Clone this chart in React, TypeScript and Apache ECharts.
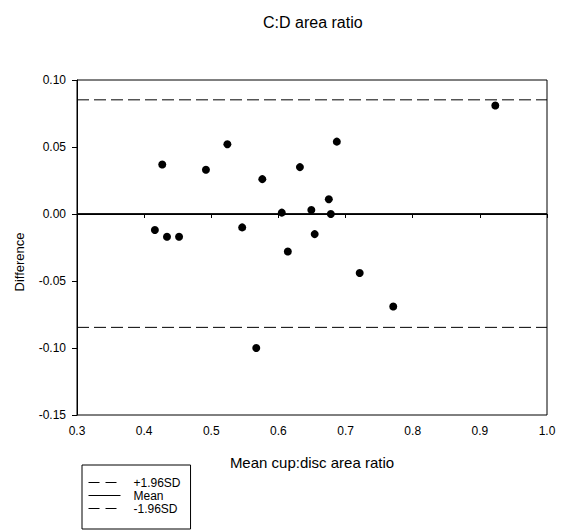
import React, { useEffect, useRef } from "react";
import * as echarts from "echarts";

const meanX: number[] = [0.416, 0.427, 0.434, 0.452, 0.492, 0.524, 0.546, 0.567, 0.576, 0.605, 0.614, 0.632, 0.649, 0.654, 0.675, 0.678, 0.687, 0.721, 0.771, 0.923];
const diffY: number[] = [-0.012, 0.037, -0.017, -0.017, 0.033, 0.052, -0.010, -0.100, 0.026, 0.001, -0.028, 0.035, 0.003, -0.015, 0.011, 0.000, 0.054, -0.044, -0.069, 0.081];
const lineNames: string[] = ["+1.96SD", "Mean", "-1.96SD"];
const lineLevels: number[] = [0.0852, 0.0003, -0.0846];
const xRange: number[] = [0.3, 1.0];

const FONT = "'Liberation Sans', Arial, Helvetica, sans-serif";

export default function App() {
  const ref = useRef<HTMLDivElement>(null);
  useEffect(() => {
    if (!ref.current) return;
    const chart = echarts.init(ref.current, null, { renderer: "svg" });
    const points = meanX.map((x, i) => [x, diffY[i]]);
    const dashOf = (name: string) => (name === "Mean" ? "solid" : [12, 5]);
    const lineSeries = lineNames.map((name, i) => ({
      name,
      type: "line",
      data: xRange.map((x) => [x, lineLevels[i]]),
      symbol: "none",
      showSymbol: false,
      silent: true,
      lineStyle: { color: "#000", width: 1, type: dashOf(name) },
      itemStyle: { color: "#000" },
      z: 2,
    }));
    chart.setOption({
      animation: false,
      backgroundColor: "#fff",
      textStyle: { fontFamily: FONT, color: "#000" },
      title: {
        text: "C:D area ratio",
        left: 258,
        top: 9,
        textStyle: { fontFamily: FONT, fontSize: 16, fontWeight: "normal", color: "#000" },
      },
      grid: {
        left: 77,
        right: 14,
        top: 80,
        bottom: 116,
        show: true,
        borderColor: "#000",
        borderWidth: 1,
        backgroundColor: "transparent",
      },
      legend: {
        data: lineNames.map((name) => ({
          name,
          itemStyle: { opacity: 0, borderWidth: 0 },
          lineStyle: { color: "#000", width: 1, type: name === "Mean" ? "solid" : [11, 6] },
        })),
        orient: "vertical",
        left: 82,
        top: 465,
        padding: [11, 10, 14, 6],
        itemGap: 0,
        itemWidth: 32,
        itemHeight: 13,
        borderColor: "#000",
        borderWidth: 1,
        borderRadius: 0,
        selectedMode: false,
        itemStyle: { opacity: 0, borderWidth: 0 },
        textStyle: { fontFamily: FONT, fontSize: 12, color: "#000", padding: [0, 0, 0, 8], lineHeight: 13 },
      },
      xAxis: {
        type: "value",
        min: 0.3,
        max: 1.0,
        interval: 0.1,
        name: "Mean cup:disc area ratio",
        nameLocation: "middle",
        nameGap: 40,
        nameTextStyle: { fontFamily: FONT, fontSize: 15, color: "#000" },
        axisLine: { show: true, lineStyle: { color: "#000", width: 1 } },
        axisTick: { show: true, length: 4, lineStyle: { color: "#000" } },
        axisLabel: {
          fontFamily: FONT,
          fontSize: 12,
          color: "#000",
          margin: 10,
          formatter: (v: number) => v.toFixed(1),
        },
        splitLine: { show: false },
      },
      yAxis: {
        type: "value",
        min: -0.15,
        max: 0.1,
        interval: 0.05,
        axisLine: { show: true, lineStyle: { color: "#000", width: 1 } },
        axisTick: { show: true, length: 5, lineStyle: { color: "#000" } },
        axisLabel: {
          fontFamily: FONT,
          fontSize: 12,
          color: "#000",
          margin: 11,
          formatter: (v: number) => v.toFixed(2),
        },
        splitLine: { show: false },
      },
      graphic: [
        {
          type: "text",
          x: 19,
          y: 262,
          rotation: Math.PI / 2,
          style: {
            text: "Difference",
            fontFamily: FONT,
            fontSize: 13,
            fill: "#000",
            textAlign: "center",
            textVerticalAlign: "middle",
          },
        },
      ],
      series: [
        ...lineSeries,
        {
          name: "data",
          type: "scatter",
          data: points,
          symbol: "circle",
          symbolSize: 8,
          itemStyle: { color: "#000", opacity: 1 },
          z: 3,
        },
      ],
    });
    return () => chart.dispose();
  }, []);
  return (
    <div
      ref={ref}
      style={{ position: "absolute", left: 0, top: 0, width: 561, height: 531, background: "#fff" }}
    />
  );
}
